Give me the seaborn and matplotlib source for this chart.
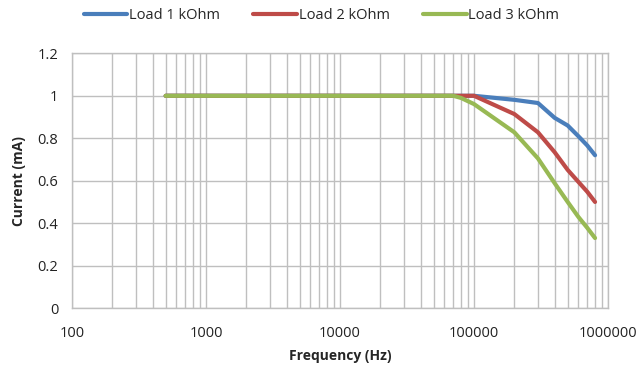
import matplotlib
matplotlib.use("Agg")
import matplotlib.pyplot as plt
import matplotlib.ticker as mticker
import seaborn as sns
import pandas as pd

# Frequency sweep (Hz) and measured current (mA) for each load
freq = [500, 1000, 10000, 50000, 70000, 80000, 100000, 200000, 300000,
        400000, 500000, 600000, 700000, 800000]
load_1k = [1.0, 1.0, 1.0, 1.0, 1.0, 1.0, 1.0, 0.981, 0.966, 0.896, 0.86, 0.81, 0.766, 0.72]
load_2k = [1.0, 1.0, 1.0, 1.0, 1.0, 1.0, 1.0, 0.914, 0.828, 0.734, 0.651, 0.595, 0.548, 0.5]
load_3k = [1.0, 1.0, 1.0, 1.0, 1.0, 0.99, 0.961, 0.828, 0.705, 0.588, 0.5, 0.43, 0.378, 0.33]
series_names = ["Load 1 kOhm", "Load 2 kOhm", "Load 3 kOhm"]
colors = ["#4A7EBB", "#BE4B48", "#98B954"]

df = pd.DataFrame({
    "freq": freq * 3,
    "current": load_1k + load_2k + load_3k,
    "load": [n for n in series_names for _ in freq],
})

sns.set_style("white")
plt.rcParams["font.family"] = ["Open Sans", "DejaVu Sans"]

fig = plt.figure(figsize=(6.43, 3.73), dpi=100)
ax = fig.add_axes([0.112, 0.174, 0.8336, 0.683])

sns.lineplot(data=df, x="freq", y="current", hue="load", palette=colors,
             linewidth=3, ax=ax, legend=True)
for line in ax.lines:
    line.set_solid_joinstyle("round")
    line.set_solid_capstyle("round")

ax.set_xscale("log")
ax.set_xlim(100, 1e6)
ax.set_ylim(0, 1.2)
ax.set_yticks([0, 0.2, 0.4, 0.6, 0.8, 1.0, 1.2])
ax.yaxis.set_major_formatter(mticker.FuncFormatter(lambda v, p: f"{v:g}"))
ax.xaxis.set_major_locator(mticker.LogLocator(base=10, numticks=10))
ax.xaxis.set_minor_locator(mticker.LogLocator(base=10, subs=range(2, 10), numticks=20))
ax.xaxis.set_major_formatter(mticker.FuncFormatter(lambda v, p: f"{int(round(v))}"))
ax.xaxis.set_minor_formatter(mticker.NullFormatter())

grid_col = "#BFBFBF"
ax.grid(True, which="major", axis="both", color=grid_col, linewidth=1.0)
ax.grid(True, which="minor", axis="x", color=grid_col, linewidth=1.0)
ax.set_axisbelow(True)
for side in ["top", "right", "left", "bottom"]:
    ax.spines[side].set_color(grid_col)
    ax.spines[side].set_linewidth(1.0)

ax.tick_params(axis="x", which="major", direction="out", length=5, color=grid_col,
               labelsize=10.5, labelcolor="#222222", pad=8)
ax.tick_params(axis="x", which="minor", length=0)
ax.tick_params(axis="y", which="major", direction="out", length=4, color=grid_col,
               labelsize=10.5, labelcolor="#222222", pad=6)

ax.set_xlabel("Frequency (Hz)", fontsize=10, fontweight="bold", labelpad=6)
ax.set_ylabel("Current (mA)", fontsize=10, fontweight="bold", labelpad=8)

handles, labels = ax.get_legend_handles_labels()
ax.get_legend().remove()
fig.legend(handles, labels, loc="center", bbox_to_anchor=(0.5, 0.958),
           ncol=3, frameon=False, fontsize=10.5, handlelength=3.0,
           handletextpad=0.1, columnspacing=2.3)

fig.savefig("out.png", dpi=100)
